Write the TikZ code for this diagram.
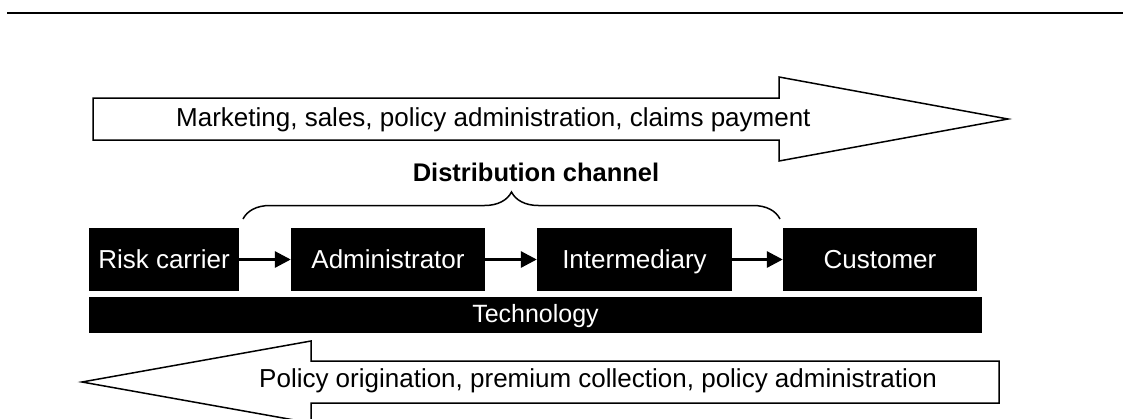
\documentclass[tikz,border=0pt]{standalone}
\usepackage{fontspec}
\setmainfont{Liberation Sans}
\usetikzlibrary{arrows.meta,decorations.pathreplacing}

\tikzset{
  party/.style={fill=black,text=white,minimum height=63pt,inner sep=0pt,text height=23pt,text depth=5pt,font=\fontsize{26}{30}\selectfont},
  flow/.style={-{Triangle[length=16pt,width=16pt]},line width=3pt},
  bigarrow/.style={draw,line width=1.5pt,fill=white,line join=miter},
  arrowtext/.style={inner sep=0pt,anchor=base west,font=\fontsize{26}{30}\selectfont}
}

\begin{document}
\begin{tikzpicture}[x=1pt,y=-1pt]
    \useasboundingbox (0,0) rectangle (1130,418);
    \coordinate (rl) at (7,13);
    \coordinate (rr) at (1123,13);
    \draw [line width=2.5pt] (rl) -- (rr);

    % process flows
    \draw [bigarrow] (93,98) -- (779,98) -- (779,77) -- (1008,119) -- (779,161) -- (779,140) -- (93,140) -- cycle;
    \node [arrowtext] (fwd) at (176,126.5) {Marketing, sales, policy administration, claims payment};
    \draw [bigarrow] (999,361) -- (311,361) -- (311,341) -- (82,382) -- (311,423) -- (311,403) -- (999,403) -- cycle;
    \node [arrowtext] (bwd) at (259,387.5) {Policy origination, premium collection, policy administration};

    % value chain
    \node [party,minimum width=150pt] (risk) at (164,259.5) {Risk carrier};
    \node [party,minimum width=194pt] (adm) at (388,259.5) {Administrator};
    \node [party,minimum width=195pt] (int) at (634.5,259.5) {Intermediary};
    \node [party,minimum width=194pt] (cust) at (880,259.5) {Customer};
    \node [party,minimum width=893pt,minimum height=36pt,text height=20.5pt,text depth=5pt,font=\fontsize{25}{30}\selectfont] (tech) at (535.5,315) {Technology};
    \draw [flow] (risk) -- (adm);
    \draw [flow] (adm) -- (int);
    \draw [flow] (int) -- (cust);

    \coordinate (bl) at (243,219);
    \coordinate (br) at (780,219);
    \draw [line width=1.5pt,decorate,decoration={brace,amplitude=27pt}] (bl) -- (br);
    \node [inner sep=0pt,anchor=base,font=\fontsize{25.5}{30}\selectfont\bfseries] (dist) at (536,181.7) {Distribution channel};
\end{tikzpicture}
\end{document}
